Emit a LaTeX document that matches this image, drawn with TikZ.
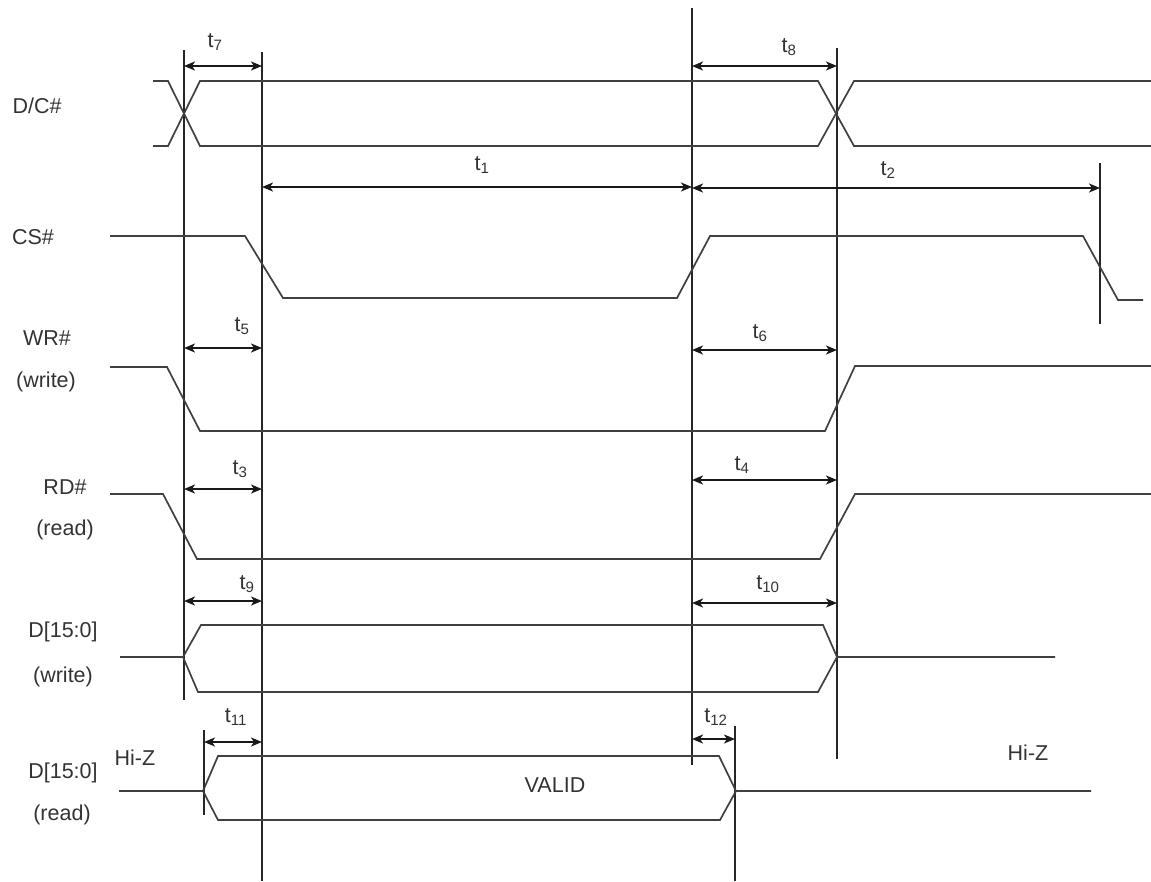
\documentclass[tikz,border=0pt]{standalone}
\usepackage{fontspec}
\setmainfont{Liberation Sans}
\usetikzlibrary{arrows.meta}
\begin{document}
\begin{tikzpicture}[x=1pt,y=-1pt,
  sig/.style={line width=1.7pt,black!75,line join=miter},
  vline/.style={line width=1.6pt,black!85},
  dim/.style={line width=1.9pt,black!90,{Stealth[length=11pt,width=9pt,inset=3pt]}-{Stealth[length=11pt,width=9pt,inset=3pt]}},
  lbl/.style={font=\fontsize{21.5}{24}\selectfont,text=black!80,inner sep=0pt},
  tl/.style={font=\fontsize{21.5}{24}\selectfont,text=black!80,inner sep=0pt}]
\useasboundingbox (0,0) rectangle (1151,881);
% vertical reference lines
\draw[vline] (184,50) -- (184,700);
\draw[vline] (262,52) -- (262,881);
\draw[vline] (692,8) -- (692,765);
\draw[vline] (837,48) -- (837,759);
\draw[vline] (1100,163) -- (1100,324);
\draw[vline] (204,730) -- (204,815);
\draw[vline] (735,726) -- (735,881);
% signals
% D/C#
\draw[sig] (153,81) -- (168,81) -- (200,146) -- (818,146) -- (854,81) -- (1151,81);
\draw[sig] (153,146) -- (168,146) -- (200,81) -- (818,81) -- (854,146) -- (1151,146);
% CS#
\draw[sig] (110,236) -- (245,236) -- (283,298) -- (677,298) -- (710,236) -- (1083,236) -- (1118,300) -- (1143,300);
% WR#
\draw[sig] (110,367) -- (167,367) -- (200,431) -- (825,431) -- (855,366) -- (1151,366);
% RD#
\draw[sig] (110,494) -- (163,494) -- (197,559) -- (820,559) -- (855,494) -- (1151,494);
% D write
\draw[sig] (120,657) -- (183,657) -- (201,625) -- (823,625) -- (837,657) -- (1055,657);
\draw[sig] (183,657) -- (198,692) -- (818,692) -- (837,657);
% D read
\draw[sig] (119,791) -- (203,791) -- (218,756) -- (719,756) -- (736,791) -- (1091,791);
\draw[sig] (203,791) -- (218,820) -- (720,820) -- (736,791);
% dimension end points
\coordinate (a7) at (184,66);  \coordinate (b7) at (262,66);
\coordinate (a8) at (692,66);  \coordinate (b8) at (837,66);
\coordinate (a1) at (262,187); \coordinate (b1) at (692,187);
\coordinate (a2) at (692,188); \coordinate (b2) at (1100,188);
\coordinate (a5) at (184,348); \coordinate (b5) at (262,348);
\coordinate (a6) at (692,350); \coordinate (b6) at (837,350);
\coordinate (a3) at (184,489); \coordinate (b3) at (262,489);
\coordinate (a4) at (692,480); \coordinate (b4) at (837,480);
\coordinate (a9) at (184,601); \coordinate (b9) at (262,601);
\coordinate (a10) at (692,603); \coordinate (b10) at (837,603);
\coordinate (a11) at (204,742); \coordinate (b11) at (262,742);
\coordinate (a12) at (692,739); \coordinate (b12) at (735,739);
\foreach \i in {7,8,1,2,5,6,3,4,9,10,11,12}{\draw[dim] (a\i) -- (b\i);}
% timing labels
\node[tl] (l7) at (215,42) {t\textsubscript{7}};
\node[tl] (l8) at (789,47) {t\textsubscript{8}};
\node[tl] (l1) at (482,165) {t\textsubscript{1}};
\node[tl] (l2) at (888,170) {t\textsubscript{2}};
\node[tl] (l5) at (242,326) {t\textsubscript{5}};
\node[tl] (l6) at (760,333) {t\textsubscript{6}};
\node[tl] (l3) at (240,469) {t\textsubscript{3}};
\node[tl] (l4) at (742,465) {t\textsubscript{4}};
\node[tl] (l9) at (247,584) {t\textsubscript{9}};
\node[tl] (l10) at (768,584) {t\textsubscript{10}};
\node[tl] (l11) at (236,717) {t\textsubscript{11}};
\node[tl] (l12) at (716,717) {t\textsubscript{12}};
% signal labels
\node[lbl] (n1) at (37,106) {D/C\#};
\node[lbl] (n2) at (33,237) {CS\#};
\node[lbl] (n3) at (47,338) {WR\#};
\node[lbl] (n4) at (46,382) {(write)};
\node[lbl] (n5) at (65,487) {RD\#};
\node[lbl] (n6) at (65,530) {(read)};
\node[lbl] (n7) at (63,632) {D[15:0]};
\node[lbl] (n8) at (63,677) {(write)};
\node[lbl] (n9) at (63,773) {D[15:0]};
\node[lbl] (n10) at (62,815) {(read)};
\node[lbl] (hz1) at (135,758) {Hi-Z};
\node[lbl] (hz2) at (1028,753) {Hi-Z};
\node[lbl] (vd) at (555,785) {VALID};
\end{tikzpicture}
\end{document}
